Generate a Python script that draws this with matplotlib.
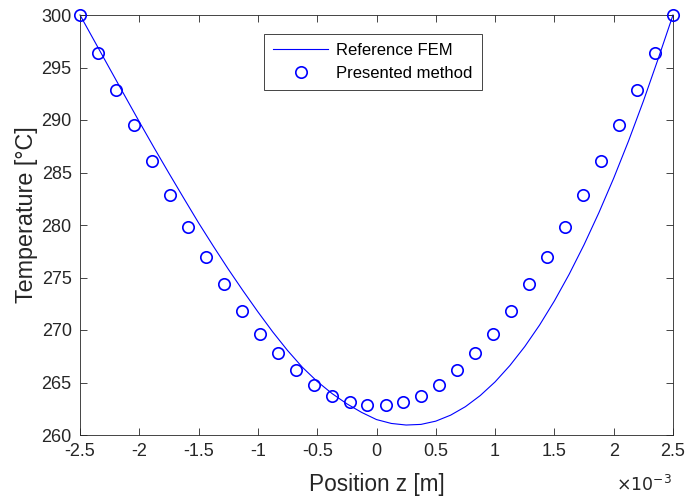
import matplotlib
matplotlib.use('Agg')
import matplotlib.pyplot as plt
from matplotlib.ticker import FuncFormatter

plt.rcParams['font.family'] = ['Liberation Sans', 'DejaVu Sans']
plt.rcParams['axes.unicode_minus'] = False

# Reference FEM curve (position in mm, temperature in degC)
fem_z_mm = [-2.5, -2.375, -2.25, -2.125, -2.0, -1.875, -1.75, -1.625, -1.5,
            -1.375, -1.25, -1.125, -1.0, -0.875, -0.75, -0.625, -0.5, -0.375,
            -0.25, -0.125, 0.0, 0.125, 0.25, 0.375, 0.5, 0.625, 0.75, 0.875,
            1.0, 1.125, 1.25, 1.375, 1.5, 1.625, 1.75, 1.875, 2.0, 2.125,
            2.25, 2.375, 2.5]
fem_temp = [300.0, 297.45, 294.9, 292.36, 289.83, 287.35, 284.93, 282.55, 280.2,
            277.97, 275.8, 273.73, 271.73, 269.82, 268.05, 266.45, 265.1, 263.95,
            262.97, 262.15, 261.47, 261.1, 260.95, 261.01, 261.32, 261.89, 262.70,
            263.76, 265.06, 266.62, 268.42, 270.47, 272.77, 275.32, 278.12, 281.17,
            284.46, 288.0, 291.79, 295.83, 300.0]

# Presented method (34 points)
pm_z_mm = [-2.5, -2.348, -2.197, -2.045, -1.894, -1.742, -1.591, -1.439, -1.288,
           -1.136, -0.985, -0.833, -0.682, -0.530, -0.379, -0.227, -0.076,
           0.076, 0.227, 0.379, 0.530, 0.682, 0.833, 0.985, 1.136, 1.288,
           1.439, 1.591, 1.742, 1.894, 2.045, 2.197, 2.348, 2.5]
pm_temp = [300.0, 296.4, 292.9, 289.5, 286.1, 282.9, 279.8, 277.0, 274.35,
           271.8, 269.65, 267.8, 266.2, 264.8, 263.75, 263.1, 262.86,
           262.86, 263.1, 263.75, 264.8, 266.2, 267.8, 269.65, 271.8, 274.35,
           277.0, 279.8, 282.9, 286.1, 289.5, 292.9, 296.4, 300.0]

x_ticks_mm = [-2.5, -2, -1.5, -1, -0.5, 0, 0.5, 1, 1.5, 2, 2.5]
y_ticks = [260, 265, 270, 275, 280, 285, 290, 295, 300]

text_color = '#262626'
axis_color = '#262626'

fig = plt.figure(figsize=(6.87, 4.96), dpi=100)
ax = fig.add_axes([80 / 687, 61 / 496, 593 / 687, 420 / 496])

ax.plot([z * 1e-3 for z in fem_z_mm], fem_temp, color='#0000ff', lw=0.8,
        label='Reference FEM', clip_on=False)
ax.plot([z * 1e-3 for z in pm_z_mm], pm_temp, 'o', color='#0000ff', mfc='none',
        ms=8.2, mew=1.2, label='Presented method', clip_on=False, zorder=5)

ax.set_xlim(-2.5e-3, 2.5e-3)
ax.set_ylim(260, 300)
ax.set_xticks([t * 1e-3 for t in x_ticks_mm])
ax.set_yticks(y_ticks)
ax.xaxis.set_major_formatter(FuncFormatter(lambda v, p: '%g' % round(v * 1e3, 6)))

ax.tick_params(direction='in', length=5, width=0.6, top=True, right=True,
               labelsize=13, colors=text_color, pad=6)
for s in ax.spines.values():
    s.set_color(axis_color)
    s.set_linewidth(0.6)

ax.set_xlabel('Position z [m]', fontsize=16.3, color=text_color, labelpad=9)
ax.set_ylabel('Temperature [°C]', fontsize=16.8, color=text_color)
ax.yaxis.set_label_coords(-0.07, 0.525)

fig.text(672 / 687, 2 / 496, r'$\times10^{-3}$', ha='right', va='bottom',
         fontsize=12.5, color=text_color)

leg = ax.legend(loc='upper left', bbox_to_anchor=(264 / 687, 1 - 34 / 496),
                bbox_transform=fig.transFigure, fontsize=12, handlelength=3.3,
                fancybox=False, framealpha=1, borderaxespad=0, borderpad=0.55,
                labelspacing=0.45, handletextpad=0.5)
leg.get_frame().set_edgecolor('#262626')
leg.get_frame().set_linewidth(0.6)
for t in leg.get_texts():
    t.set_color('#000000')

fig.savefig('out.png', dpi=100)
